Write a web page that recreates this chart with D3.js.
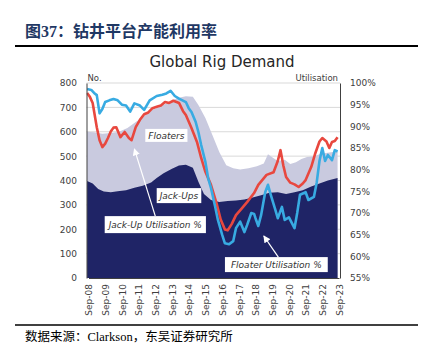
<!DOCTYPE html>
<html>
<head>
<meta charset="utf-8">
<script src="https://cdn.jsdelivr.net/npm/d3@7"></script>
<style>
  body { margin: 0; background: #fff; }
  svg { display: block; }
</style>
</head>
<body>
<svg id="chart"></svg>
<script>
// total rigs working (floaters + jack-ups), left axis
const totalRigs = [
  ["2008-08", 600], ["2009-01", 598], ["2009-07", 592], ["2010-01", 595], ["2010-07", 600],
  ["2011-01", 615], ["2011-07", 640], ["2012-01", 665], ["2012-07", 690], ["2013-01", 705],
  ["2013-07", 722], ["2014-01", 738], ["2014-07", 746], ["2014-12", 744], ["2015-04", 710],
  ["2015-09", 656], ["2016-02", 587], ["2016-07", 517], ["2016-12", 463], ["2017-05", 450],
  ["2017-10", 445], ["2018-04", 450], ["2018-10", 458], ["2019-03", 470], ["2019-06", 508],
  ["2019-09", 495], ["2020-01", 480], ["2020-06", 485], ["2020-10", 468], ["2021-02", 475],
  ["2021-06", 488], ["2021-10", 496], ["2022-03", 500], ["2022-08", 510], ["2023-02", 515],
  ["2023-08", 520]
];

// jack-ups working, left axis
const jackUps = [
  ["2008-08", 398], ["2008-12", 388], ["2009-04", 365], ["2009-08", 355], ["2010-01", 352],
  ["2010-06", 356], ["2010-12", 360], ["2011-06", 370], ["2011-12", 378], ["2012-06", 392],
  ["2012-10", 410], ["2013-03", 430], ["2013-09", 448], ["2014-02", 462], ["2014-07", 465],
  ["2014-12", 452], ["2015-04", 395], ["2015-08", 345], ["2016-01", 320], ["2016-07", 312],
  ["2017-01", 316], ["2017-07", 318], ["2018-01", 322], ["2018-07", 330], ["2019-01", 340],
  ["2019-07", 350], ["2020-01", 352], ["2020-07", 345], ["2021-01", 352], ["2021-07", 360],
  ["2022-01", 375], ["2022-07", 388], ["2023-01", 400], ["2023-08", 410]
];

// jack-up utilisation %, right axis
const jackUpUtil = [
  ["2008-08", 97.7], ["2008-10", 96.8], ["2008-12", 95.4], ["2009-03", 89.8], ["2009-05", 86.8],
  ["2009-07", 85.2], ["2009-09", 86.0], ["2009-11", 87.3], ["2010-01", 88.8], ["2010-03", 89.7],
  ["2010-05", 89.8], ["2010-08", 87.5], ["2010-11", 88.7], ["2011-02", 87.3], ["2011-04", 86.8],
  ["2011-07", 89.8], ["2011-10", 91.5], ["2012-01", 92.8], ["2012-04", 93.2], ["2012-07", 94.2],
  ["2012-10", 94.5], ["2013-01", 94.8], ["2013-04", 95.6], ["2013-07", 95.4], ["2013-10", 95.9],
  ["2014-02", 95.4], ["2014-05", 93.5], ["2014-07", 92.6], ["2014-11", 89.6], ["2015-03", 86.4],
  ["2015-06", 82.7], ["2015-09", 79.5], ["2016-01", 76.5], ["2016-05", 72.3], ["2016-08", 68.5],
  ["2016-11", 66.2], ["2017-01", 66.0], ["2017-04", 67.5], ["2017-07", 69.5], ["2017-11", 71.0],
  ["2018-03", 72.5], ["2018-08", 74.6], ["2018-11", 76.5], ["2019-05", 78.8], ["2019-10", 79.4],
  ["2020-01", 82.0], ["2020-03", 84.5], ["2020-05", 81.0], ["2020-07", 78.3], ["2020-10", 77.0],
  ["2021-01", 76.6], ["2021-04", 76.0], ["2021-07", 76.8], ["2021-09", 77.6], ["2022-01", 80.6],
  ["2022-04", 83.8], ["2022-07", 86.5], ["2022-09", 87.3], ["2022-12", 86.5], ["2023-02", 85.0],
  ["2023-04", 86.4], ["2023-06", 86.6], ["2023-08", 87.5]
];

// floater utilisation %, right axis
const floaterUtil = [
  ["2008-08", 98.6], ["2008-11", 98.4], ["2009-01", 97.7], ["2009-03", 97.2], ["2009-05", 93.0],
  ["2009-07", 94.0], ["2009-09", 95.6], ["2009-12", 96.0], ["2010-03", 96.3], ["2010-06", 96.0],
  ["2010-09", 95.0], ["2010-12", 94.8], ["2011-03", 93.4], ["2011-06", 95.3], ["2011-10", 94.8],
  ["2012-01", 93.8], ["2012-05", 96.0], ["2012-10", 97.0], ["2013-02", 97.3], ["2013-05", 97.6],
  ["2013-08", 98.2], ["2013-11", 97.0], ["2014-02", 96.4], ["2014-07", 95.6], ["2014-09", 94.2],
  ["2014-11", 93.3], ["2015-02", 91.0], ["2015-04", 88.7], ["2015-06", 85.7], ["2015-09", 81.8],
  ["2015-11", 78.0], ["2016-01", 75.8], ["2016-04", 71.5], ["2016-06", 68.4], ["2016-09", 65.0],
  ["2016-11", 63.0], ["2017-02", 62.8], ["2017-05", 63.5], ["2017-07", 66.5], ["2017-10", 68.0],
  ["2018-01", 65.6], ["2018-03", 67.2], ["2018-06", 70.0], ["2018-08", 69.8], ["2018-09", 68.8],
  ["2018-11", 67.0], ["2019-01", 69.5], ["2019-04", 74.8], ["2019-06", 76.5], ["2019-08", 74.2],
  ["2019-11", 71.0], ["2020-01", 68.8], ["2020-04", 71.4], ["2020-06", 68.4], ["2020-09", 69.0],
  ["2021-01", 66.5], ["2021-03", 70.0], ["2021-05", 74.2], ["2021-09", 74.8], ["2021-11", 73.0],
  ["2022-03", 73.7], ["2022-05", 77.0], ["2022-07", 82.0], ["2022-09", 85.0], ["2022-11", 82.0],
  ["2023-01", 83.4], ["2023-04", 82.2], ["2023-06", 84.5], ["2023-08", 84.2]
];

const xTicks = ["2008-09", "2009-09", "2010-09", "2011-09", "2012-09", "2013-09", "2014-09", "2015-09",
  "2016-09", "2017-09", "2018-09", "2019-09", "2020-09", "2021-09", "2022-09", "2023-09"];
const leftTicks = [0, 100, 200, 300, 400, 500, 600, 700, 800];
const rightTicks = [55, 60, 65, 70, 75, 80, 85, 90, 95, 100];

const W = 427, H = 350;
const plot = { left: 86.5, right: 340, top: 83, bottom: 278 };
const chartFont = "DejaVu Sans, sans-serif";
const cnFont = "'Liberation Serif', 'Noto Sans CJK SC', serif";

const parse = d3.timeParse("%Y-%m");

const svg = d3.select("#chart").attr("width", W).attr("height", H);

// header
svg.append("text")
  .attr("x", 25).attr("y", 37)
  .attr("font-family", cnFont)
  .attr("font-weight", "bold")
  .attr("font-size", "16px")
  .attr("fill", "#1f3864")
  .text("图37：钻井平台产能利用率");

svg.append("line")
  .attr("x1", 15).attr("x2", 418).attr("y1", 46).attr("y2", 46)
  .attr("stroke", "#000").attr("stroke-width", 2);

svg.append("line")
  .attr("x1", 15).attr("x2", 418).attr("y1", 325).attr("y2", 325)
  .attr("stroke", "#000").attr("stroke-width", 1.5);

svg.append("text")
  .attr("x", 25).attr("y", 341)
  .attr("font-family", cnFont)
  .attr("font-size", "12.5px")
  .attr("fill", "#000")
  .text("数据来源：Clarkson，东吴证券研究所");

// scales
const x = d3.scaleTime()
  .domain([parse("2008-09"), parse("2023-09")])
  .range([88.5, 339]);

const yL = d3.scaleLinear().domain([0, 800]).range([plot.bottom, plot.top]);
const yR = d3.scaleLinear().domain([55, 100]).range([plot.bottom, plot.top]);

svg.append("defs").append("clipPath").attr("id", "clip")
  .append("rect")
  .attr("x", plot.left).attr("y", plot.top - 5)
  .attr("width", plot.right - plot.left).attr("height", plot.bottom - plot.top + 5);

// chart title
svg.append("text")
  .attr("x", 222).attr("y", 67)
  .attr("text-anchor", "middle")
  .attr("font-family", chartFont)
  .attr("font-size", "15px")
  .attr("fill", "#262626")
  .text("Global Rig Demand");

// gridlines
svg.append("g")
  .selectAll("line")
  .data(leftTicks.filter((d) => d > 0))
  .join("line")
  .attr("x1", plot.left).attr("x2", plot.right)
  .attr("y1", (d) => yL(d)).attr("y2", (d) => yL(d))
  .attr("stroke", "#d9d9d9").attr("stroke-width", 1);

const g = svg.append("g").attr("clip-path", "url(#clip)");

const area = (yScale) => d3.area()
  .x((d) => x(parse(d[0])))
  .y0(yScale(0))
  .y1((d) => yScale(d[1]));

// Floaters (total) then Jack-Ups on top
g.append("path").datum(totalRigs)
  .attr("fill", "#c9cadf")
  .attr("d", area(yL));

g.append("path").datum(jackUps)
  .attr("fill", "#1f2466")
  .attr("d", area(yL));

const line = d3.line()
  .x((d) => x(parse(d[0])))
  .y((d) => yR(d[1]));

g.append("path").datum(jackUpUtil)
  .attr("fill", "none")
  .attr("stroke", "#e8483f")
  .attr("stroke-width", 2.6)
  .attr("stroke-linejoin", "round")
  .attr("d", line);

g.append("path").datum(floaterUtil)
  .attr("fill", "none")
  .attr("stroke", "#38abe2")
  .attr("stroke-width", 2.6)
  .attr("stroke-linejoin", "round")
  .attr("d", line);

// axes
const axisLeft = svg.append("g")
  .attr("transform", `translate(${plot.left},0)`)
  .call(d3.axisLeft(yL).tickValues(leftTicks).tickSize(0).tickPadding(9.5));

const axisRight = svg.append("g")
  .attr("transform", `translate(${plot.right},0)`)
  .call(d3.axisRight(yR).tickValues(rightTicks).tickSize(0).tickPadding(10)
    .tickFormat((d) => d + "%"));

const axisBottom = svg.append("g")
  .attr("transform", `translate(0,${plot.bottom})`)
  .call(d3.axisBottom(x).tickValues(xTicks.map(parse)).tickSize(0)
    .tickFormat(d3.timeFormat("%b-%y")));

axisBottom.selectAll("text")
  .attr("transform", "rotate(-90)")
  .attr("text-anchor", "end")
  .attr("x", -6)
  .attr("y", 0)
  .attr("dy", "0.36em");

[axisLeft, axisRight, axisBottom].forEach((ax) => {
  ax.select(".domain").attr("stroke", "#404040").attr("stroke-width", 1);
  ax.selectAll("text")
    .attr("font-family", chartFont)
    .attr("font-size", "9px")
    .attr("fill", "#404040");
});

svg.append("text")
  .attr("x", plot.left + 1).attr("y", 80.5)
  .attr("font-family", chartFont).attr("font-size", "8.5px").attr("fill", "#404040")
  .text("No.");

svg.append("text")
  .attr("x", plot.right - 2).attr("y", 80.5)
  .attr("text-anchor", "end")
  .attr("font-family", chartFont).attr("font-size", "8.5px").attr("fill", "#404040")
  .text("Utilisation");

// annotations
svg.append("defs").append("marker")
  .attr("id", "arrow")
  .attr("viewBox", "0 0 10 10")
  .attr("refX", 9).attr("refY", 5)
  .attr("markerWidth", 6).attr("markerHeight", 6)
  .attr("orient", "auto")
  .append("path")
  .attr("d", "M0,0L10,5L0,10z")
  .attr("fill", "#fff");

function label(cx, cy, txt, padX, h) {
  const lg = svg.append("g");
  const rect = lg.append("rect").attr("fill", "#fff");
  const t = lg.append("text")
    .attr("x", cx).attr("y", cy)
    .attr("dy", "0.35em")
    .attr("text-anchor", "middle")
    .attr("font-family", chartFont)
    .attr("font-style", "italic")
    .attr("font-size", "9px")
    .attr("fill", "#333")
    .text(txt);
  const w = t.node().getComputedTextLength() + padX * 2;
  rect.attr("x", cx - w / 2).attr("y", cy - h / 2).attr("width", w).attr("height", h);
  return { top: cy - h / 2 };
}

function arrow(x1, y1, x2, y2) {
  svg.append("line")
    .attr("x1", x1).attr("y1", y1).attr("x2", x2).attr("y2", y2)
    .attr("stroke", "#fff").attr("stroke-width", 1.2)
    .attr("marker-end", "url(#arrow)");
}

label(x(parse("2013-05")), yL(585), "Floaters", 3, 13);
label(x(parse("2014-02")), yL(338), "Jack-Ups", 3, 15);

const juX = x(parse("2012-09"));
const ju = label(juX, yL(219), "Jack-Up Utilisation %", 4, 17);
arrow(juX, ju.top, x(parse("2011-06")), yL(530));

const fuX = x(parse("2019-12"));
const fu = label(fuX, yL(55), "Floater Utilisation %", 6, 15);
arrow(fuX + 2, fu.top, x(parse("2019-03")), yR(64.7));
</script>
</body>
</html>
